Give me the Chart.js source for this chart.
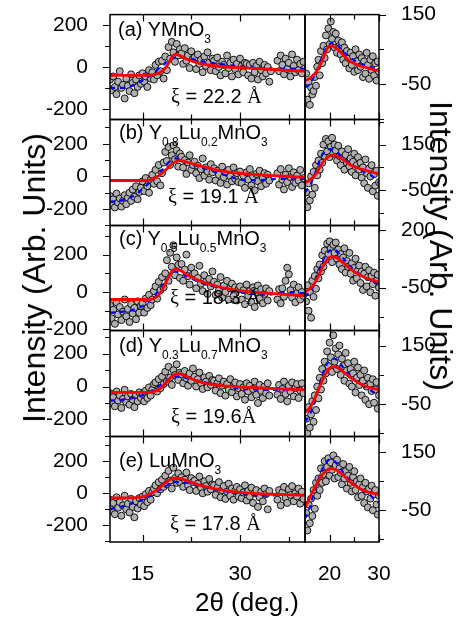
<!DOCTYPE html>
<html>
<head>
<meta charset="utf-8">
<script src="https://cdn.jsdelivr.net/npm/chart.js@4.4.0/dist/chart.umd.min.js"></script>
<style>
  html, body { margin: 0; padding: 0; background: #fff; }
  #figure { position: relative; width: 466px; height: 621px; overflow: hidden;
            font-family: "Liberation Sans", Arial, sans-serif; color: #000; }
  #figure canvas { position: absolute; }
  .tag { position: absolute; font-size: 20px; line-height: 1; white-space: nowrap; z-index: 2; }
  .tag sub { font-size: 12px; vertical-align: -7px; line-height: 0; }
  .serif { font-family: "Liberation Serif", "Times New Roman", serif; }
  .title { position: absolute; font-size: 32px; line-height: 1; white-space: nowrap; z-index: 2; }
</style>
</head>
<body>
<div id="figure">
  <div class="tag" style="left:118px; top:19px">(a) YMnO<sub>3</sub></div>
  <div class="tag" style="left:119px; top:122px">(b) Y<sub>0.8</sub>Lu<sub>0.2</sub>MnO<sub>3</sub></div>
  <div class="tag" style="left:119px; top:228px">(c) Y<sub>0.5</sub>Lu<sub>0.5</sub>MnO<sub>3</sub></div>
  <div class="tag" style="left:119px; top:335px">(d) Y<sub>0.3</sub>Lu<sub>0.7</sub>MnO<sub>3</sub></div>
  <div class="tag" style="left:119px; top:450px">(e) LuMnO<sub>3</sub></div>

  <div class="tag" style="left:171px; top:86px"><span class="serif">ξ</span> = 22.2 <span class="serif">Å</span></div>
  <div class="tag" style="left:168px; top:186px"><span class="serif">ξ</span> = 19.1 <span class="serif">Å</span></div>
  <div class="tag" style="left:170px; top:287px"><span class="serif">ξ</span> = 18.3 <span class="serif">Å</span></div>
  <div class="tag" style="left:171px; top:406px"><span class="serif">ξ</span> = 19.6<span class="serif">Å</span></div>
  <div class="tag" style="left:170px; top:513px"><span class="serif">ξ</span> = 17.8 <span class="serif">Å</span></div>

  <div class="title" style="left:34px; top:278px; transform: translate(-50%, -50%) rotate(-90deg)">Intensity (Arb. Units)</div>
  <div class="title" style="left:441px; top:246px; transform: translate(-50%, -50%) rotate(90deg)">Intensity (Arb. Units)</div>
  <div class="title" style="left:247px; top:589px; font-size:26px; transform: translateX(-50%)">2θ (deg.)</div>
</div>

<script>
// angle grid of the scans (deg.)
const leftStart = 10;
const rightStart = 15.25;
const angleStep = 0.25;

// angles where the fit and smoothed curves are sampled
const fitAnglesLeft = [10, 12, 14, 15, 16, 17, 17.5, 18, 18.5, 19, 19.5, 20, 20.5, 21, 21.5, 22, 23, 24, 26, 28, 30, 32, 35, 38, 40];
const fitAnglesRight = [15, 15.5, 16, 16.5, 17, 17.5, 18, 18.5, 19, 19.5, 20, 20.5, 21, 21.5, 22, 23, 24, 25, 26, 27, 28, 29, 30];
const smoothAnglesLeft = [10, 12, 14, 16, 18, 20, 22, 24, 26, 28, 30, 32, 34, 36, 38, 40];
const smoothAnglesRight = [15, 16, 17, 18, 19, 20, 21, 22, 23, 24, 25, 26, 27, 28, 29, 30];

// tick positions
const xTicksLeft = [15, 22.5, 30, 37.5];
const xLabelsLeft = [15, 30];
const xTicksRight = [20, 25, 30];
const xLabelsRight = [20, 30];

// (a) YMnO3
const ptsLeftA = [-60, -110, -45, -95, -130, -70, -20, -100, -85, -150, -55, -90, -115, -35, -75, -125, -60, -95, -40, -80,
  -30, -70, -45, -95, -15, -55, -25, -60, 10, -40, 25, -20, 30, -55, 50, -15,
  95, 40, 120, 70, 25, 110, 55, 85, 65, 15, 90, 30, 55, -5, 75, 40,
  45, -10, 60, 15, 35, -25, 50, 5, 70, 20, -15, 40,
  30, -20, 45, 0, -40, 25, 10, -30, 55, -5, 20, -45, 35, -10, 15, -35, 40, 5, -25, 20,
  15, -40, 10, -55, 20, -25, 5, -60, 25, -15, -45, 10, -30, 0, -70, -20,
  null, null, null,
  30, -20, 55, 10, -35, 40, -10, 20, -45, 60, 5, -25, 35, -15, 15, -30, 25];
const ptsRightA = [-20, -95, -45, -110, -60, -80, -70, -30, -55, 0, 20, -25, 45, 10, 60, 25, 90, 50,
  110, 65, 130, 80, 100, 55, 95, 40, 75, 60, 35, 70, 20, 55, 10, 45, 25, -5,
  40, 5, 30, -15, 50, 15, -10, 35, 0, 25, -30, 15, -20, 40, 5, -35, 20, -10, 30, -25, 10, -40, 15, -15];
const fitLeftA = [-40, -40, -40, -40, -39, -35, -30, -20, -5, 18, 45, 60, 58, 50, 42, 35, 24, 15, 6, 0, -3, -7, -12, -17, -20];
const fitRightA = [-40, -37, -33, -27, -20, -10, 2, 18, 35, 52, 60, 60, 56, 51, 45, 30, 17, 9, 3, -1, -5, -9, -12];
const smoothLeftA = [-100, -100, -80, -45, 5, 45, 42, 28, 18, 10, 3, -3, -8, -10, -8, -8];
const smoothRightA = [-60, -50, -25, 10, 45, 65, 70, 55, 40, 28, 18, 10, 5, 0, -5, -10];

// (b) Y0.8Lu0.2MnO3
const ptsLeftB = [-120, -175, -140, -190, -105, -160, -135, -185, -150, -115, -170, -130,
  -100, -150, -80, -125, -60, -140, -95, -70, -30, -90, -10, -60, -100, -20, 10, -45,
  40, -30, 70, -55, 20, 85, 150, 95, 180, 70, 130, 190, 105, 160, 60, 140,
  120, 55, 100, 15, 85, 130, 40, 70, 90, 20, 65, -10, 45, 110, 5, 55, 30, -20, 75, 25,
  50, -25, 35, 10, -40, 60, -5, 25, -50, 40, 0, -30, 55, -15, 20, -35,
  30, -40, 5, -70, 25, -20, 45, -55, 0, -85, 15, -30, 35, -60, -10, 20, -45, 10, -25,
  null, null, null, null,
  20, -50, 45, -20, -80, 10, -35, 50, -5, -65, 25, -40, 5, -25, 40, -55, -10];
const ptsRightB = [-60, -125, -20, -95, 10, -70, 30, -40, 60, 15, 80, 40, 110, 70, 150, 100, 175, 120,
  165, 95, 140, 180, 110, 150, 125, 80, 145, 100, 60, 120, 85, 40, 105, 70, 130, 55,
  90, 30, 75, 110, 15, 60, 95, 40, 70, 5, 50, -20, 85, 25, -40, 45, 10, 60, -55, 20, -30, 35, -75, -15];
const fitLeftB = [-25, -25, -25, -25, -23, -5, 5, 20, 38, 57, 75, 88, 95, 96, 92, 86, 75, 63, 43, 28, 20, 12, 5, -2, -6];
const fitRightB = [-17, -12, -5, 3, 15, 30, 50, 68, 82, 93, 100, 104, 104, 100, 94, 80, 64, 53, 45, 39, 33, 27, 23];
const smoothLeftB = [-155, -145, -110, -40, 40, 110, 85, 55, 30, 5, -20, -25, -20, -15, -15, -15];
const smoothRightB = [-60, -30, 20, 80, 120, 130, 125, 105, 85, 70, 55, 40, 30, 20, 5, -20];

// (c) Y0.5Lu0.5MnO3
const ptsLeftC = [-70, -140, -95, -170, -55, -120, -80, -150, -105, -40, -130, -90, -160, -65, -115, -85, -145, -50, -110, -75,
  -60, -110, -35, -85, -15, -70, -40, 5, 30, -35, 55, 10, 80, 25,
  100, 170, 60, 210, 135, 250, 90, 185, 145, 75, 150, 60, 120, 200, 85, 40, 130, 95,
  100, 20, 75, 140, 45, 5, 90, 55, -10, 70, 30, 110,
  55, -15, 40, 10, 80, -30, 35, 0, 60, -40, 20, 45, -20, 25, -45, 15,
  30, -40, 10, -65, 40, -20, 5, -55, 25, -80, 0, 35, -35, 15, -60, -10, 20, -45, 5,
  null, null, null, null,
  -40, 15, -60, 20, -25, 60, 130, 95, 10, -30, 40, -55, -5, 25, -40, 0, -20];
const ptsRightC = [-110, -40, -150, -70, -180, -20, -90, 0, -55, 30, -10, 50, 20, 90, 40, 110, 70, 140,
  95, 150, 120, 60, 135, 100, 145, 75, 115, 50, 95, 30, 80, 120, 15, 65, 40, 100,
  10, 55, -20, 35, 75, -10, 25, 45, -30, 20, -60, 10, 40, -45, -5, 25, -70, 0, -35, 15, -85, -20, 5, -50];
const fitLeftC = [-40, -40, -40, -40, -40, -30, -15, 10, 45, 80, 110, 122, 120, 112, 100, 90, 72, 56, 35, 18, 8, 0, -8, -15, -20];
const fitRightC = [-66, -62, -55, -45, -30, -10, 12, 35, 55, 70, 80, 84, 83, 78, 70, 53, 35, 18, 6, -5, -13, -20, -27];
const smoothLeftC = [-110, -105, -90, -50, 30, 110, 80, 50, 30, 15, 0, -10, -15, -5, 0, -10];
const smoothRightC = [-90, -70, -30, 30, 80, 110, 115, 95, 70, 45, 25, 10, -5, -15, -25, -35];

// (d) Y0.3Lu0.7MnO3
const ptsLeftD = [-40, -100, -65, -120, -30, -85, -55, -130, -75, -20, -95, -60, -110, -45, -80, -125, -50, -90, -35, -70,
  -45, -90, -25, -70, -5, -55, -20, 15, 25, -30, 45, -10, 60, 15,
  90, 30, 120, 55, 10, 100, 70, 135, 40, 85, 75, 20, 95, 50, 5, 80, 35, 110,
  60, 0, 45, 85, 20, -15, 55, 30, -5, 65, 10, 40,
  35, -25, 20, 50, -40, 5, 30, -55, 15, -20, 45, -35, 0, 25, -60, -10,
  15, -45, -5, -80, 20, -30, 5, -65, -15, 30, -50, -100, 10, -25, -70, 0, -40, 20, -55,
  null, null, null, null,
  -50, 10, -75, -15, 30, -45, -90, 5, -30, 25, -60, -10, 15, -70, -25, 20, -40];
const ptsRightD = [-100, -150, -60, -130, -85, -40, -110, -20, -70, 10, -30, 40, 0, 70, 30, 95, 55, 130,
  80, 160, 110, 60, 185, 95, 140, 70, 120, 150, 50, 105, 80, 30, 125, 65, 90, 20,
  70, 10, 55, 95, -10, 40, 75, 15, 50, -20, 30, 65, -35, 10, 40, -50, 20, -5, 35, -45, 0, 25, -65, -20];
const fitLeftD = [-35, -35, -35, -35, -35, -28, -18, -2, 18, 40, 60, 74, 78, 74, 66, 56, 40, 26, 10, 2, -3, -7, -12, -17, -20];
const fitRightD = [-77, -72, -62, -48, -30, -10, 10, 30, 48, 62, 72, 77, 78, 75, 70, 57, 43, 31, 21, 13, 7, 3, -1];
const smoothLeftD = [-85, -80, -65, -35, 15, 60, 50, 30, 15, 0, -12, -18, -20, -20, -18, -20];
const smoothRightD = [-110, -85, -40, 20, 70, 100, 105, 90, 70, 50, 35, 20, 10, 0, -10, -20];

// (e) LuMnO3
const ptsLeftE = [-40, -105, -60, -130, -25, -90, -55, -140, -75, -15, -100, -65, -120, -35, -85, -150, -50, -95, -30, -70,
  -20, -80, -5, -55, 15, -40, 5, 30, 50, 0, 70, 25, 85, 40,
  110, 55, 140, 80, 30, 160, 95, 65, 125, 70, 100, 40, 85, 130, 50, 20, 95, 70,
  80, 15, 60, 105, 35, 0, 75, 45, 10, 90, 25, 55,
  50, -10, 35, 70, -25, 20, 45, -35, 10, 60, -15, 30, -40, 15, 40, -20,
  25, -30, 5, 50, -45, 15, -20, 35, -60, 0, 20, -85, -25, 10, -50, 30, -5, -100, 15,
  null, null, null, null,
  -40, 20, -75, 5, 40, -30, -60, 25, -10, 45, -50, 0, -20, 30, -65, 10, -35];
const ptsRightE = [-60, -120, -30, -95, -10, -70, 20, -45, 45, 0, 60, 20, 95, 45, 75, 120, 50, 100,
  130, 70, 115, 90, 140, 60, 105, 125, 65, 95, 80, 40, 110, 60, 85, 25, 70, 100,
  45, 15, 65, 85, 20, 50, -5, 40, 60, 0, 30, -25, 45, 15, -40, 25, -10, 35, -50, 5, 20, -30, -65, 0];
const fitLeftE = [-28, -28, -27, -22, -8, 15, 30, 48, 65, 80, 90, 94, 94, 90, 84, 76, 62, 48, 30, 15, 6, 0, -6, -10, -12];
const fitRightE = [-40, -25, -5, 12, 28, 45, 60, 72, 82, 89, 93, 94, 92, 88, 82, 68, 50, 37, 26, 18, 12, 8, 5];
const smoothLeftE = [-100, -80, -55, -20, 30, 70, 65, 45, 25, 10, 0, -10, -15, -10, -10, -10];
const smoothRightE = [-80, -40, 20, 70, 110, 125, 120, 100, 75, 55, 40, 25, 15, 5, -10, -25];

const rows = [
  { pl: ptsLeftA, pr: ptsRightA, fl: fitLeftA, fr: fitRightA, sl: smoothLeftA, sr: smoothRightA,
    yl: [-250, 250], yr: [-152, 150], tl: [-200, -100, 0, 100, 200], tr: [-150, -50, 50, 150], lr: [150, -50] },
  { pl: ptsLeftB, pr: ptsRightB, fl: fitLeftB, fr: fitRightB, sl: smoothLeftB, sr: smoothRightB,
    yl: [-300, 348], yr: [-205, 260], tl: [-300, -200, -100, 0, 100, 200, 300], tr: [-150, -50, 50, 150, 250], lr: [150, -50] },
  { pl: ptsLeftC, pr: ptsRightC, fl: fitLeftC, fr: fitRightC, sl: smoothLeftC, sr: smoothRightC,
    yl: [-205, 355], yr: [-235, 218], tl: [-200, -100, 0, 100, 200, 300], tr: [-175, -50, 75, 200], lr: [200, -50] },
  { pl: ptsLeftD, pr: ptsRightD, fl: fitLeftD, fr: fitRightD, sl: smoothLeftD, sr: smoothRightD,
    yl: [-303, 340], yr: [-160, 201], tl: [-300, -200, -100, 0, 100, 200, 300], tr: [-150, -50, 50, 150], lr: [150, -50] },
  { pl: ptsLeftE, pr: ptsRightE, fl: fitLeftE, fr: fitRightE, sl: smoothLeftE, sr: smoothRightE,
    yl: [-304, 354], yr: [-160, 205], tl: [-300, -200, -100, 0, 100, 200, 300], tr: [-150, -50, 50, 150], lr: [150, -50] }
];
const leftLabels = [-200, 0, 200];

// panel layout (px): row borders and the two column spans of the plot boxes
const rowEdges = [15, 120, 226, 331, 437, 542];
const leftBox = [110, 305];
const rightBox = [305, 379];
const AXIS_H = 79;
const FONT = '"Liberation Sans", Arial, sans-serif';

// box, mirrored inner x ticks and outer y ticks
const panelFrame = {
  id: 'panelFrame',
  afterDatasetsDraw(chart, args, opts) {
    const { ctx, chartArea: a, scales } = chart;
    ctx.save();
    ctx.strokeStyle = '#000';
    ctx.lineWidth = 1.5;
    ctx.strokeRect(a.left, a.top, a.right - a.left, a.bottom - a.top);
    ctx.lineWidth = 1.2;
    ctx.beginPath();
    opts.xTicks.forEach(v => {
      const px = Math.round(scales.x.getPixelForValue(v)) + 0.5;
      const len = opts.xMajor.includes(v) ? 7 : 5;
      ctx.moveTo(px, a.bottom); ctx.lineTo(px, a.bottom - len);
      ctx.moveTo(px, a.top); ctx.lineTo(px, a.top + len);
    });
    const edge = opts.side === 'left' ? a.left : a.right;
    const dir = opts.side === 'left' ? -1 : 1;
    opts.yTicks.forEach(v => {
      const py = Math.round(scales.y.getPixelForValue(v)) + 0.5;
      const len = opts.yMajor.includes(v) ? 7 : 5;
      ctx.moveTo(edge, py); ctx.lineTo(edge + dir * len, py);
    });
    ctx.stroke();
    ctx.restore();
  }
};

function toPoints(start, values) {
  return values.map((v, i) => ({ x: start + i * angleStep, y: v })).filter(p => p.y !== null);
}
function toCurve(angles, values) {
  return angles.map((a, i) => ({ x: a, y: values[i] }));
}

const fig = document.getElementById('figure');

function addCanvas(width, height) {
  const c = document.createElement('canvas');
  c.width = width;
  c.height = height;
  fig.insertBefore(c, fig.firstChild);
  return c;
}

// move and resize the canvas so that the plot area lands on the wanted box
function placeChart(chart, canvas, box) {
  for (let k = 0; k < 2; k++) {
    const a = chart.chartArea;
    const width = Math.round(a.left + (box.right - box.left) + (chart.width - a.right));
    const height = Math.round(a.top + (box.bottom - box.top) + (chart.height - a.bottom));
    canvas.style.left = Math.round(box.left - a.left) + 'px';
    canvas.style.top = Math.round(box.top - a.top) + 'px';
    chart.resize(width, height);
  }
}

function drawPanel(r, side) {
  const row = rows[r];
  const last = r === rows.length - 1;
  const isLeft = side === 'left';
  const span = isLeft ? leftBox : rightBox;
  const box = { left: span[0], right: span[1], top: rowEdges[r], bottom: rowEdges[r + 1] };
  const canvas = addCanvas(isLeft ? 320 : 170, 200);

  const xTicks = isLeft ? xTicksLeft : xTicksRight;
  const xLabels = isLeft ? xLabelsLeft : xLabelsRight;
  const yTicks = isLeft ? row.tl : row.tr;
  const yLabels = isLeft ? leftLabels : row.lr;
  const yRange = isLeft ? row.yl : row.yr;

  const chart = new Chart(canvas, {
    type: 'scatter',
    data: {
      datasets: [{
        data: toCurve(isLeft ? fitAnglesLeft : fitAnglesRight, isLeft ? row.fl : row.fr),
        showLine: true,
        borderColor: '#ff0000',
        borderWidth: 2.8,
        pointRadius: 0,
        cubicInterpolationMode: 'monotone',
        clip: 0
      }, {
        data: toCurve(isLeft ? smoothAnglesLeft : smoothAnglesRight, isLeft ? row.sl : row.sr),
        showLine: true,
        borderColor: '#0000ff',
        borderWidth: 2.2,
        borderDash: [5, 5],
        pointRadius: 0,
        cubicInterpolationMode: 'monotone',
        clip: 0
      }, {
        data: toPoints(isLeft ? leftStart : rightStart, isLeft ? row.pl : row.pr),
        pointRadius: 3.5,
        pointBackgroundColor: '#b0b0b0',
        pointBorderColor: '#000000',
        pointBorderWidth: 0.9,
        clip: 0
      }]
    },
    options: {
      responsive: false,
      maintainAspectRatio: false,
      animation: false,
      events: [],
      layout: { padding: 0 },
      plugins: {
        legend: { display: false },
        tooltip: { enabled: false },
        panelFrame: { xTicks: xTicks, xMajor: xLabels, yTicks: yTicks, yMajor: yLabels, side: side }
      },
      scales: {
        x: {
          type: 'linear',
          min: isLeft ? 10 : 15,
          max: isLeft ? 40 : 30,
          display: last,
          grid: { display: false },
          border: { display: false },
          afterBuildTicks: s => { s.ticks = xTicks.map(v => ({ value: v })); },
          afterFit: s => { s.height = last ? AXIS_H : 0; },
          ticks: {
            autoSkip: false,
            maxRotation: 0,
            padding: 12,
            color: '#000',
            font: { family: FONT, size: 21 },
            callback: v => xLabels.includes(v) ? String(v) : ''
          }
        },
        y: {
          type: 'linear',
          position: side,
          min: yRange[0],
          max: yRange[1],
          grid: { display: false },
          border: { display: false },
          afterBuildTicks: s => { s.ticks = yTicks.map(v => ({ value: v })); },
          afterFit: s => { s.width = isLeft ? 110 : 87; },
          ticks: {
            autoSkip: false,
            padding: 14,
            color: '#000',
            font: { family: FONT, size: 21 },
            callback: v => yLabels.includes(v) ? String(v) : ''
          }
        }
      }
    },
    plugins: [panelFrame]
  });
  placeChart(chart, canvas, box);
}

rows.forEach((row, r) => {
  drawPanel(r, 'left');
  drawPanel(r, 'right');
});
</script>
</body>
</html>
